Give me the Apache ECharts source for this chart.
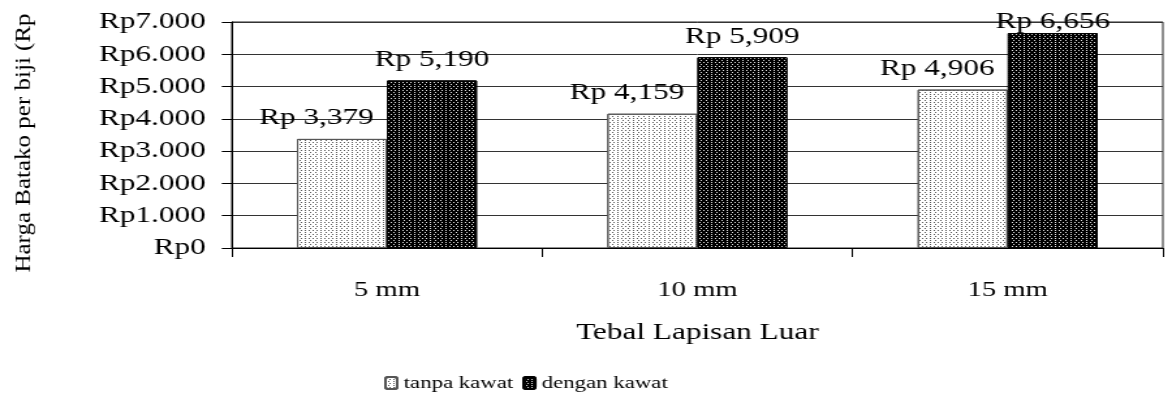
<!DOCTYPE html>
<html>
<head>
<meta charset="utf-8">
<script src="https://cdn.jsdelivr.net/npm/echarts@6/dist/echarts.min.js"></script>
<style>
  html, body { margin: 0; padding: 0; background: #fff; overflow: hidden; }
  /* the chart is laid out 900px wide and widened to the 1172px page */
  #wrap { width: 1172px; height: 393px; overflow: hidden; }
  #chart { width: 900px; height: 393px; transform: scaleX(1.30222); transform-origin: 0 0; }
</style>
</head>
<body>
<div id="wrap"><div id="chart"></div></div>
<script>
// Harga batako per biji menurut tebal lapisan luar
const categories = ['5 mm', '10 mm', '15 mm'];
const tanpaKawat = [3379, 4159, 4906];
const denganKawat = [5190, 5909, 6656];
const seriesNames = ['tanpa kawat', 'dengan kawat'];
const yTitle = 'Harga Batako per biji (Rp';
const xTitle = 'Tebal Lapisan Luar';

const FONT = '"Liberation Serif", "Times New Roman", serif';

function rupiahTick(v) {
  // 7000 -> "Rp7.000"
  if (v === 0) return 'Rp0';
  const s = String(v);
  return 'Rp' + s.slice(0, s.length - 3) + '.' + s.slice(-3);
}
function rupiahLabel(v) {
  // 3379 -> "Rp 3,379"
  const s = String(v);
  return 'Rp ' + s.slice(0, s.length - 3) + ',' + s.slice(-3);
}

// staggered dot fills
const dotsLight = {
  symbol: 'rect', symbolSize: 1, color: '#5a5a5a',
  dashArrayX: [[1, 2], [0, 1.5, 1, 0.5]], dashArrayY: [1, 0.5], rotation: 0
};
const dotsDark = {
  symbol: 'rect', symbolSize: 1, color: '#e0e0e0',
  dashArrayX: [[1, 2], [0, 1.5, 1, 0.5]], dashArrayY: [1, 0.5], rotation: 0
};

const labelBase = {
  show: true, position: 'top', distance: 9,
  fontFamily: FONT, fontSize: 24, color: '#000',
  formatter: p => rupiahLabel(p.value)
};

const chart = echarts.init(document.getElementById('chart'), null, { renderer: 'canvas' });
chart.setOption({
  animation: false,
  backgroundColor: '#fff',
  grid: { left: 178, right: 7, top: 22, bottom: 145, show: true, borderColor: '#222', borderWidth: 1 },
  // vertical value-axis title, squeezed across its thickness
  graphic: [{
    type: 'text',
    x: 18.5, y: 143,
    rotation: Math.PI / 2,
    scaleX: 1, scaleY: 0.7,
    style: {
      text: yTitle, fill: '#000',
      font: '25px ' + FONT,
      align: 'center', verticalAlign: 'middle'
    }
  }],
  legend: {
    data: seriesNames,
    top: 369, left: 290,
    itemWidth: 9, itemHeight: 12, itemGap: 7,
    textStyle: { fontFamily: FONT, fontSize: 17.5, color: '#000' }
  },
  xAxis: {
    type: 'category', data: categories,
    name: xTitle, nameLocation: 'middle', nameGap: 73,
    nameTextStyle: { fontFamily: FONT, fontSize: 24, color: '#000' },
    axisLine: { lineStyle: { color: '#000', width: 1 } },
    axisTick: { show: true, length: 9, inside: false, lineStyle: { color: '#000' } },
    axisLabel: { fontFamily: FONT, fontSize: 22, color: '#000', margin: 31 }
  },
  yAxis: {
    type: 'value', min: 0, max: 7000, interval: 1000,
    axisLine: { show: true, lineStyle: { color: '#000', width: 1 } },
    axisTick: { show: true, length: 7.7, lineStyle: { color: '#000' } },
    axisLabel: { fontFamily: FONT, fontSize: 24, color: '#000', margin: 20, formatter: rupiahTick },
    splitLine: { show: true, lineStyle: { color: '#333', width: 1 } }
  },
  series: [
    {
      name: seriesNames[0], type: 'bar', data: tanpaKawat,
      barGap: '0%', barCategoryGap: '42%',
      itemStyle: { color: '#fff', borderColor: '#555', borderWidth: 1, decal: dotsLight },
      label: Object.assign({}, labelBase, { offset: [-19.5, 0] })
    },
    {
      name: seriesNames[1], type: 'bar',
      // the tallest label sits tight against the plot top
      data: denganKawat.map((v, i) => i === denganKawat.length - 1
        ? { value: v, label: { distance: -1 } } : v),
      barGap: '0%', barCategoryGap: '42%',
      itemStyle: { color: '#000', borderColor: '#000', borderWidth: 1, decal: dotsDark },
      label: labelBase
    }
  ]
});
</script>
</body>
</html>
